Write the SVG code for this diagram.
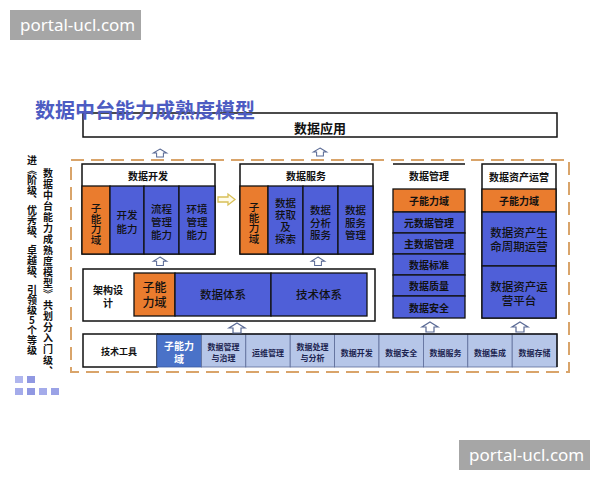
<svg xmlns="http://www.w3.org/2000/svg" width="600" height="480" viewBox="0 0 600 480">
<style>
text{font-family:"Noto Sans CJK SC","Noto Sans",sans-serif;text-anchor:middle;dominant-baseline:central;fill:#111}
.wm{font-family:"Noto Sans","Liberation Sans",sans-serif;font-size:17px;fill:#fff;text-anchor:start;dominant-baseline:auto}
.h{font-size:10px;font-weight:700}
.c{font-size:10.5px;font-weight:500}
.v{font-size:10.5px;font-weight:500;writing-mode:vertical-rl;text-orientation:upright}
.t{font-size:8px;font-weight:700;fill:#1c2450}
.box{fill:#fff;stroke:#111;stroke-width:1.5}
.or{fill:#ea7c2e;stroke:#111;stroke-width:1.3}
.bl{fill:#4f5fd8;stroke:#111;stroke-width:1.3}
.lb{fill:#b6c6e8;stroke:#5d6c98;stroke-width:0.8}
.arr{fill:#fff;stroke:#5a6a95;stroke-width:1.2}
</style>
<defs>
<path id="up" d="M0,0 L8,5 L4,5 L4,10 L-4,10 L-4,5 L-8,5 Z"/>
</defs>
<rect width="600" height="480" fill="#fff"/>

<g id="watermark-top"><rect x="10" y="10" width="131" height="30" fill="#a6a6a6"/><text class="wm" x="20" y="31">portal-ucl.com</text></g>
<g id="watermark-bottom"><rect x="459" y="440" width="131" height="30" fill="#a6a6a6"/><text class="wm" x="469" y="461">portal-ucl.com</text></g>

<g id="app">
<rect class="box" x="83" y="113" width="474" height="24" stroke-width="2"/>
<text x="320" y="127" style="font-size:13px;font-weight:700">数据应用</text>
</g>
<text id="title" x="35" y="109" style="font-size:20px;font-weight:700;fill:#4d5cc2;text-anchor:start">数据中台能力成熟度模型</text>

<g id="side-text" style="font-size:10px;font-weight:700;writing-mode:vertical-rl;text-orientation:upright">
<text x="32" y="155" style="text-anchor:start;dominant-baseline:central">进《阶级、优秀级、卓越级、引领级5个等级</text>
<text x="48" y="168" style="text-anchor:start;dominant-baseline:central;letter-spacing:1px">数据中台能力成熟度模型》共划分入门级、</text>
</g>
<g id="icon">
<rect x="15" y="376" width="8" height="7" fill="#b0b6ee"/><rect x="27" y="376" width="8" height="7" fill="#9098e2"/>
<rect x="15" y="388" width="8" height="7" fill="#a4abea"/><rect x="27" y="388" width="8" height="7" fill="#9098e2"/><rect x="39" y="388" width="8" height="7" fill="#a4abea"/><rect x="51" y="388" width="8" height="7" fill="#9aa2e6"/>
</g>

<rect id="frame" x="71" y="160" width="498" height="212" fill="none" stroke="#d9a46a" stroke-width="2" stroke-dasharray="13,7"/>

<g id="panel-dev">
<rect class="box" x="82" y="164" width="133" height="90"/>
<text class="h" x="148" y="175">数据开发</text>
<rect class="or" x="82" y="186" width="28" height="68" stroke-width="2"/>
<rect class="bl" x="110" y="186" width="34" height="68"/>
<rect class="bl" x="144" y="186" width="35" height="68"/>
<rect class="bl" x="179" y="186" width="36" height="68"/>
<text class="v" x="96" y="224">子能力域</text>
<text class="c"><tspan x="127" y="214">开发</tspan><tspan x="127" y="228">能力</tspan></text>
<text class="c"><tspan x="161.5" y="208">流程</tspan><tspan x="161.5" y="221">管理</tspan><tspan x="161.5" y="234">能力</tspan></text>
<text class="c"><tspan x="197" y="208">环境</tspan><tspan x="197" y="221">管理</tspan><tspan x="197" y="234">能力</tspan></text>
</g>

<g id="panel-service">
<rect class="box" x="240" y="164" width="133" height="90"/>
<text class="h" x="306" y="175">数据服务</text>
<rect class="or" x="240" y="186" width="28" height="68" stroke-width="2"/>
<rect class="bl" x="268" y="186" width="35" height="68"/>
<rect class="bl" x="303" y="186" width="35" height="68"/>
<rect class="bl" x="338" y="186" width="35" height="68"/>
<text class="v" x="254" y="223">子能力域</text>
<text class="c"><tspan x="285.5" y="202">数据</tspan><tspan x="285.5" y="214">获取</tspan><tspan x="285.5" y="226">及</tspan><tspan x="285.5" y="238">探索</tspan></text>
<text class="c"><tspan x="320.5" y="209">数据</tspan><tspan x="320.5" y="221.5">分析</tspan><tspan x="320.5" y="234">服务</tspan></text>
<text class="c"><tspan x="355.5" y="209">数据</tspan><tspan x="355.5" y="221.5">服务</tspan><tspan x="355.5" y="234">管理</tspan></text>
</g>

<g id="panel-manage">
<line x1="393" y1="164" x2="465" y2="164" stroke="#111" stroke-width="1.5"/>
<text class="h" x="429" y="175">数据管理</text>
<rect class="or" x="393" y="189" width="72" height="23"/>
<rect class="bl" x="393" y="212" width="72" height="21"/>
<rect class="bl" x="393" y="233" width="72" height="21"/>
<rect class="bl" x="393" y="254" width="72" height="21"/>
<rect class="bl" x="393" y="275" width="72" height="21"/>
<rect class="bl" x="393" y="296" width="72" height="22"/>
<text class="h" x="429" y="200.5">子能力域</text>
<text class="h" x="429" y="222.5">元数据管理</text>
<text class="h" x="429" y="243.5">主数据管理</text>
<text class="h" x="429" y="264.5">数据标准</text>
<text class="h" x="429" y="285.5">数据质量</text>
<text class="h" x="429" y="307">数据安全</text>
</g>

<g id="panel-asset">
<rect class="box" x="482" y="164" width="74" height="154"/>
<text class="h" x="519" y="176">数据资产运营</text>
<rect class="or" x="482" y="189" width="74" height="23"/>
<rect class="bl" x="482" y="212" width="74" height="54"/>
<rect class="bl" x="482" y="266" width="74" height="52"/>
<text class="h" x="519" y="200.5">子能力域</text>
<text class="c" style="font-size:11.5px"><tspan x="519" y="232">数据资产生</tspan><tspan x="519" y="246">命周期运营</tspan></text>
<text class="c" style="font-size:11.5px"><tspan x="519" y="286">数据资产运</tspan><tspan x="519" y="300">营平台</tspan></text>
</g>

<g id="arch">
<rect class="box" x="83" y="269" width="292" height="52"/>
<text class="h"><tspan x="108" y="289">架构设</tspan><tspan x="108" y="302">计</tspan></text>
<rect class="or" x="134" y="273" width="41" height="43"/>
<rect class="bl" x="175" y="273" width="96" height="43"/>
<rect class="bl" x="271" y="273" width="96" height="43"/>
<text class="c" style="font-size:12px"><tspan x="154.5" y="286">子能</tspan><tspan x="154.5" y="301">力域</tspan></text>
<text class="c" style="font-size:11.5px" x="223" y="294">数据体系</text>
<text class="c" style="font-size:11.5px" x="319" y="294">技术体系</text>
</g>

<g id="tools">
<rect class="box" x="83" y="334" width="74" height="33"/>
<text class="h" style="font-size:9px" x="119" y="351">技术工具</text>
<rect x="157" y="334" width="44.4" height="33" fill="#4a72c8" stroke="#3a5aa0" stroke-width="0.8"/>
<rect class="lb" x="201.4" y="334" width="44.4" height="33"/>
<rect class="lb" x="245.8" y="334" width="44.4" height="33"/>
<rect class="lb" x="290.2" y="334" width="44.4" height="33"/>
<rect class="lb" x="334.6" y="334" width="44.4" height="33"/>
<rect class="lb" x="379" y="334" width="44.4" height="33"/>
<rect class="lb" x="423.4" y="334" width="44.4" height="33"/>
<rect class="lb" x="467.8" y="334" width="44.4" height="33"/>
<rect class="lb" x="512.2" y="334" width="44.8" height="33"/>
<polyline points="157,334 557,334 557,367" fill="none" stroke="#111" stroke-width="1.5"/>
<text class="t" style="font-size:10px;fill:#fff"><tspan x="179" y="345">子能力</tspan><tspan x="179" y="358">域</tspan></text>
<text class="t"><tspan x="223.6" y="346">数据管理</tspan><tspan x="223.6" y="357">与治理</tspan></text>
<text class="t" x="268" y="352">运维管理</text>
<text class="t"><tspan x="312.4" y="346">数据处理</tspan><tspan x="312.4" y="357">与分析</tspan></text>
<text class="t" x="356.8" y="352">数据开发</text>
<text class="t" x="401.2" y="352">数据安全</text>
<text class="t" x="445.6" y="352">数据服务</text>
<text class="t" x="490" y="352">数据集成</text>
<text class="t" x="534.6" y="352">数据存储</text>
</g>

<g id="connectors">
<use href="#up" class="arr" transform="translate(160,149) scale(0.85,0.8)"/>
<use href="#up" class="arr" transform="translate(320,148) scale(0.85,0.8)"/>
<use href="#up" class="arr" transform="translate(160,257) scale(0.85,0.85)"/>
<use href="#up" class="arr" transform="translate(318,257) scale(0.85,0.85)"/>
<use href="#up" class="arr" transform="translate(237,323)"/>
<use href="#up" class="arr" transform="translate(430,322)"/>
<use href="#up" class="arr" transform="translate(520,322)"/>
<path d="M218,197 L228,197 L228,194 L235,199.5 L228,205 L228,202 L218,202 Z" fill="#fffbe8" stroke="#d8c058" stroke-width="1.3"/>
</g>
</svg>
